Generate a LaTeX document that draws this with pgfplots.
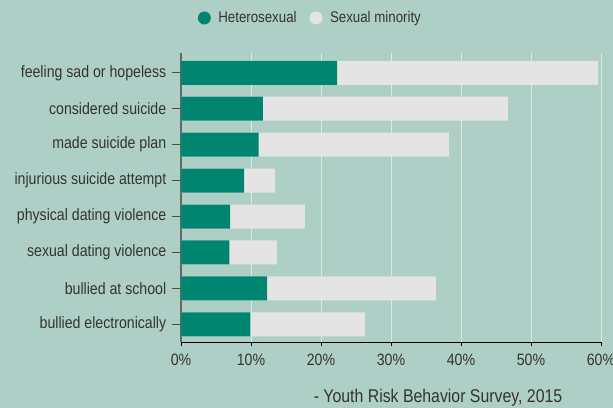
\documentclass[border=0pt]{standalone}
\usepackage{pgfplots}
\pgfplotsset{compat=1.18}
\usepackage{fontspec}
\setmainfont{Liberation Sans}[FakeStretch=0.86]
\definecolor{bg}{HTML}{AECFC6}
\definecolor{het}{HTML}{008570}
\definecolor{minor}{HTML}{E4E4E4}
\definecolor{grd}{HTML}{DCE9E5}
\definecolor{txt}{HTML}{333333}
\begin{document}
\begin{tikzpicture}
\fill[bg] (0bp,0bp) rectangle (613bp,408bp);
\begin{axis}[
  at={(181bp,65.7bp)}, anchor=south west,
  width=420bp, height=289.3bp, scale only axis,
  xmin=0, xmax=60, ymin=-0.5, ymax=7.55,
  axis x line*=bottom, axis y line*=left,
  x axis line style={black, line width=0.8bp},
  y axis line style={color=black!60, line width=1.8bp},
  tick align=outside,
  xtick={0,10,20,30,40,50,60},
  xticklabels={0\%,10\%,20\%,30\%,40\%,50\%,60\%},
  ytick={0,1,2,3,4,5,6,7},
  yticklabels={bullied electronically, bullied at school, sexual dating violence, physical dating violence, injurious suicide attempt, made suicide plan, considered suicide, feeling sad or hopeless},
  xtick style={black, line width=0.8bp, /pgfplots/major tick length=4bp},
  ytick style={color=black!70, line width=1.2bp, /pgfplots/major tick length=9bp},
  ticklabel style={text=txt, font=\fontsize{16.5}{18}\selectfont},
  yticklabel style={xshift=-7bp},
  xticklabel style={yshift=-4bp},
  xmajorgrids, grid style={grd, line width=1bp},
  legend style={at={(0.308,1.121)}, anchor=center, draw=none, fill=none,
    legend columns=2, font=\fontsize{15.5}{17}\selectfont, text=txt,
    /tikz/every even column/.append style={column sep=11bp}},
  legend image code/.code={\fill[#1] (0bp,0bp) circle (6.5bp); \path (12bp,0bp);},
]
\addlegendimage{fill=het, draw=none}
\addlegendentry{Heterosexual}
\addlegendimage{fill=minor, draw=none}
\addlegendentry{Sexual minority}
\addplot[xbar, bar width=24bp, bar shift=0pt, fill=minor, draw=none, forget plot] coordinates {
  (26.3,0) (36.4,1) (13.7,2) (17.7,3) (13.4,4) (38.3,5) (46.7,6) (59.6,7)};
\addplot[xbar, bar width=24bp, bar shift=0pt, fill=het, draw=none, forget plot] coordinates {
  (9.9,0) (12.3,1) (6.9,2) (7.0,3) (9.0,4) (11.1,5) (11.7,6) (22.3,7)};
\end{axis}
\node[font=\fontsize{18.5}{20}\selectfont, text=txt, anchor=center] at (438bp,10bp) {- Youth Risk Behavior Survey, 2015};
\pgfresetboundingbox
\useasboundingbox (0bp,0bp) rectangle (613bp,408bp);
\end{tikzpicture}
\end{document}
